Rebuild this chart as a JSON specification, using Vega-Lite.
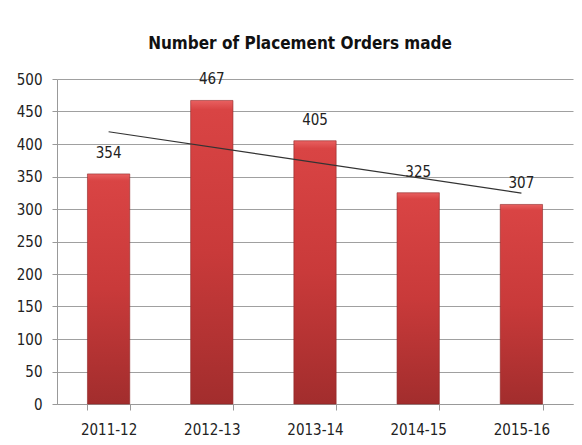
{
  "$schema": "https://vega.github.io/schema/vega-lite/v6.json",
  "width": 516,
  "height": 325,
  "autosize": {"type": "none"},
  "padding": {"left": 57, "top": 79, "right": 9, "bottom": 41},
  "background": "white",
  "title": {
    "text": "Number of Placement Orders made",
    "font": "DejaVu Sans Condensed",
    "fontSize": 17,
    "fontWeight": "bold",
    "color": "#111",
    "anchor": "middle",
    "dx": -15,
    "offset": 19
  },
  "data": {
    "values": [
      {"year": "2011-12", "orders": 354, "trend": 418.8},
      {"year": "2012-13", "orders": 467, "trend": 395.2},
      {"year": "2013-14", "orders": 405, "trend": 371.6},
      {"year": "2014-15", "orders": 325, "trend": 348.0},
      {"year": "2015-16", "orders": 307, "trend": 324.4}
    ]
  },
  "encoding": {
    "x": {
      "field": "year",
      "type": "nominal",
      "sort": null,
      "title": null,
      "scale": {"paddingInner": 0.59, "paddingOuter": 0.295},
      "axis": {
        "labelAngle": 0,
        "tickBand": "extent",
        "tickSize": 6,
        "tickColor": "#999",
        "domainColor": "#999",
        "labelPadding": 12,
        "labelFontSize": 15,
        "labelColor": "#222",
        "labelFont": "DejaVu Sans Condensed",
        "grid": false
      }
    }
  },
  "layer": [
    {
      "mark": {
        "type": "bar",
        "stroke": "#8e2626",
        "strokeWidth": 0.6,
        "color": {
          "gradient": "linear",
          "x1": 0, "y1": 0, "x2": 0, "y2": 1,
          "stops": [
            {"offset": 0, "color": "#e86060"},
            {"offset": 0.03, "color": "#d94444"},
            {"offset": 0.5, "color": "#c93a3a"},
            {"offset": 1, "color": "#a22d2d"}
          ]
        }
      },
      "encoding": {
        "y": {
          "field": "orders",
          "type": "quantitative",
          "title": null,
          "scale": {"domain": [0, 500], "nice": false}
        }
      }
    },
    {
      "mark": {
        "type": "text",
        "dy": -21,
        "fontSize": 15,
        "color": "#222",
        "font": "DejaVu Sans Condensed"
      },
      "encoding": {
        "y": {"field": "orders", "type": "quantitative", "title": null},
        "text": {"field": "orders", "type": "quantitative"}
      }
    },
    {
      "transform": [{"filter": "datum.year == '2011-12' || datum.year == '2015-16'"}],
      "mark": {"type": "line", "color": "#333", "strokeWidth": 1.2},
      "encoding": {
        "y": {"field": "trend", "type": "quantitative", "title": null}
      }
    }
  ],
  "config": {
    "view": {"stroke": null},
    "axisY": {
      "tickCount": 10,
      "labelOverlap": false,
      "tickSize": 5,
      "tickColor": "#999",
      "domainColor": "#999",
      "gridColor": "#a0a0a0",
      "labelPadding": 10,
      "labelFontSize": 15,
      "labelColor": "#222",
      "labelFont": "DejaVu Sans Condensed"
    }
  }
}
